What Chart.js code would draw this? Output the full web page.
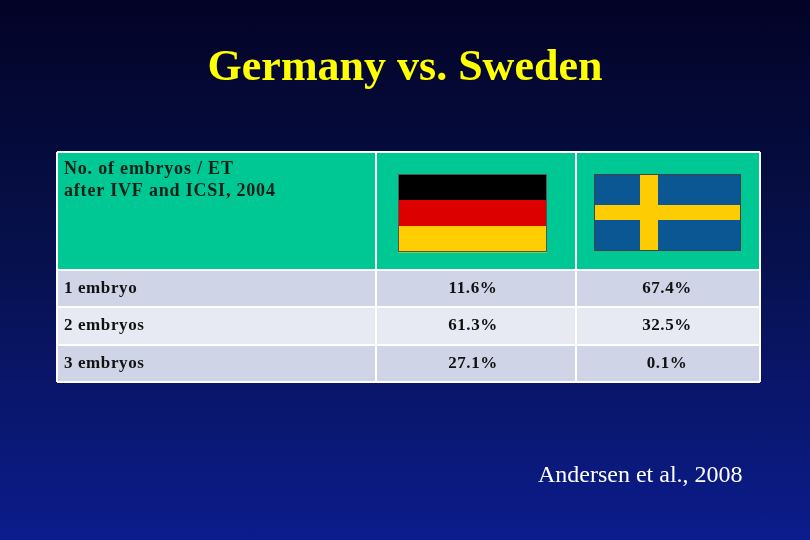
<!DOCTYPE html>
<html><head><meta charset="utf-8">
<script src="https://cdn.jsdelivr.net/npm/chart.js@4"></script>
<style>
html,body{margin:0;padding:0;width:810px;height:540px;overflow:hidden;background:linear-gradient(#030326 0%,#06104a 45%,#0c1c8c 100%);}
#w{width:810px;height:540px;position:relative}
</style></head><body><div id="w"><canvas id="c"></canvas></div>
<script>
const title = "Germany vs. Sweden";
const headerLines = ["No. of embryos / ET", "after IVF and ICSI, 2004"];
const categories = ["1 embryo", "2 embryos", "3 embryos"];
const germany = ["11.6%", "61.3%", "27.1%"];
const sweden = ["67.4%", "32.5%", "0.1%"];
const citation = "Andersen et al., 2008";

const colEdges = [0, 319, 519, 703];
const rowEdges = [0, 118, 155, 193, 230];
const rowFills = ["#cfd5e6", "#e7eaf2", "#cfd5e6"];

const tablePlugin = {
  id: 'table',
  beforeDatasetsDraw(chart) {
    const ctx = chart.ctx, x = chart.scales.x, y = chart.scales.y;
    const X = v => x.getPixelForValue(v), Y = v => y.getPixelForValue(v);
    ctx.save();
    ctx.fillStyle = "#ffff00"; ctx.font = "bold 44px 'Liberation Serif'";
    ctx.textAlign = "center"; ctx.textBaseline = "middle";
    ctx.fillText(title, 405, 69);
    for (let c = 0; c < 3; c++) {
      ctx.fillStyle = "#00c895";
      ctx.fillRect(X(colEdges[c]), Y(rowEdges[0]), X(colEdges[c+1]) - X(colEdges[c]), Y(rowEdges[1]) - Y(rowEdges[0]));
    }
    ctx.letterSpacing = "0.6px";
    categories.forEach((cat, r) => {
      const y0 = Y(rowEdges[r+1]), y1 = Y(rowEdges[r+2]);
      ctx.fillStyle = rowFills[r];
      ctx.fillRect(X(colEdges[0]), y0, X(colEdges[3]) - X(colEdges[0]), y1 - y0);
      ctx.fillStyle = "#111"; ctx.font = "bold 17px 'Liberation Serif'"; ctx.textBaseline = "middle";
      ctx.textAlign = "left"; ctx.fillText(cat, X(colEdges[0]) + 7, (y0 + y1) / 2);
      ctx.textAlign = "center";
      ctx.fillText(germany[r], (X(colEdges[1]) + X(colEdges[2])) / 2 - 3, (y0 + y1) / 2);
      ctx.fillText(sweden[r], (X(colEdges[2]) + X(colEdges[3])) / 2 - 1, (y0 + y1) / 2);
    });
    ctx.strokeStyle = "#ffffff"; ctx.lineWidth = 2;
    rowEdges.forEach(v => { ctx.beginPath(); ctx.moveTo(X(colEdges[0]), Y(v)); ctx.lineTo(X(colEdges[3]), Y(v)); ctx.stroke(); });
    colEdges.forEach(v => { ctx.beginPath(); ctx.moveTo(X(v), Y(rowEdges[0])); ctx.lineTo(X(v), Y(rowEdges[4])); ctx.stroke(); });
    ctx.fillStyle = "#0a2016"; ctx.font = "bold 18px 'Liberation Serif'"; ctx.textAlign = "left";
    ctx.letterSpacing = "0.8px";
    headerLines.forEach((t, i) => ctx.fillText(t, X(colEdges[0]) + 7, Y(rowEdges[0]) + 17 + i * 22));
    ctx.letterSpacing = "0px";
    const gx = 398, gy = 174, gw = 149, gh = 78;
    ["#000000", "#dd0000", "#ffce00"].forEach((col, i) => { ctx.fillStyle = col; ctx.fillRect(gx, gy + i * gh / 3, gw, gh / 3 + 0.5); });
    ctx.strokeStyle = "#555"; ctx.lineWidth = 1; ctx.strokeRect(gx + 0.5, gy + 0.5, gw - 1, gh - 1);
    const sx = 594, sy = 174, sw = 147, sh = 77;
    ctx.fillStyle = "#0b5794"; ctx.fillRect(sx, sy, sw, sh);
    ctx.fillStyle = "#fecc02";
    ctx.fillRect(sx + 46, sy, 18, sh);
    ctx.fillRect(sx, sy + 31, sw, 15);
    ctx.strokeStyle = "#444"; ctx.strokeRect(sx + 0.5, sy + 0.5, sw - 1, sh - 1);
    ctx.fillStyle = "#fff"; ctx.font = "24px 'Liberation Serif'"; ctx.textAlign = "left";
    ctx.fillText(citation, 538, 476);
    ctx.restore();
  }
};

new Chart(document.getElementById('c'), {
  type: 'scatter',
  data: { datasets: [{ data: [] }] },
  options: {
    responsive: true, maintainAspectRatio: false, animation: false,
    layout: { padding: { left: 57, right: 50, top: 152, bottom: 158 } },
    plugins: { legend: { display: false }, tooltip: { enabled: false } },
    scales: {
      x: { type: 'linear', min: 0, max: 703, display: false },
      y: { type: 'linear', min: 0, max: 230, reverse: true, display: false }
    }
  },
  plugins: [tablePlugin]
});
</script></body></html>
